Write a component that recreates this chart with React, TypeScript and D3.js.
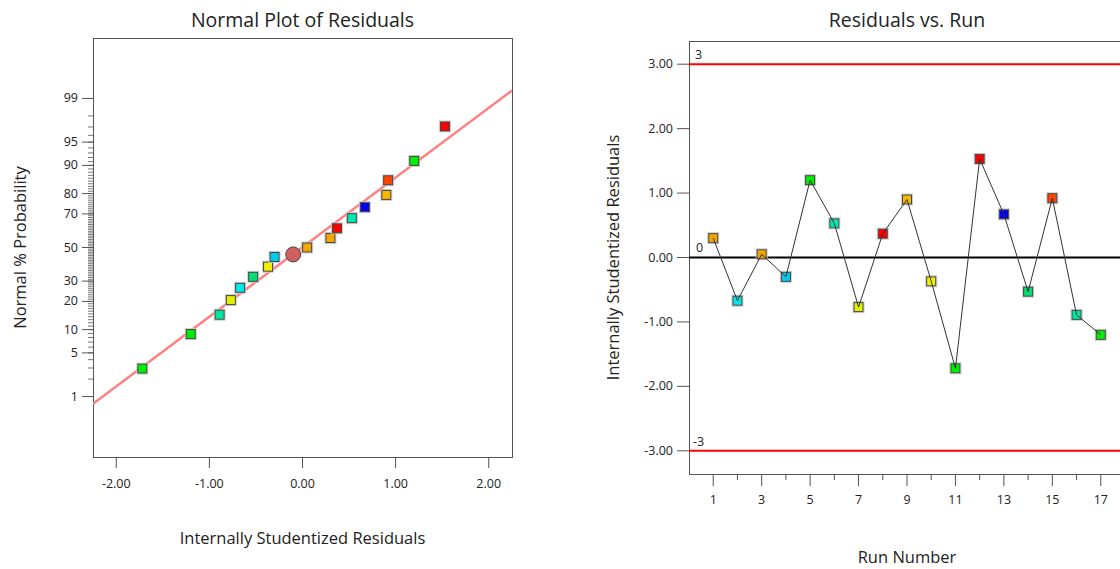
import React from "react";
import * as d3 from "d3";

const runs = [1, 2, 3, 4, 5, 6, 7, 8, 9, 10, 11, 12, 13, 14, 15, 16, 17];
const residuals = [0.3, -0.67, 0.05, -0.3, 1.2, 0.53, -0.77, 0.37, 0.9, -0.37, -1.72, 1.53, 0.67, -0.53, 0.92, -0.89, -1.2];
const runColors = [
  "#f0a800", "#00e8e8", "#f0a800", "#00ccf0", "#00ee00", "#00e8b0", "#e0f000", "#ff0000", "#f8b800",
  "#f0f000", "#00ee00", "#ff0000", "#0000ee", "#00e070", "#ff4400", "#00e8a0", "#00ee00",
];

// highlighted point on the normal plot
const markerResidual = -0.1;
const markerPercent = 45.7;

// fitted normal line
const fitMean = -0.005;
const fitSd = 0.92;

const probMajor = [1, 5, 10, 20, 30, 50, 70, 80, 90, 95, 99];
const probMinor = d3.range(1, 100);
const xTicksLeft = [-2, -1, 0, 1, 2];
const yTicksRight = [-3, -2, -1, 0, 1, 2, 3];

const font = "'Open Sans', 'Noto Sans', sans-serif";
const textColor = "#222";
const axisColor = "#555";

// inverse normal cdf (Acklam)
function normInv(p: number) {
  const a = [-39.69683028665376, 220.9460984245205, -275.9285104469687, 138.357751867269, -30.66479806614716, 2.506628277459239];
  const b = [-54.47609879822406, 161.5858368580409, -155.6989798598866, 66.80131188771972, -13.28068155288572];
  const c = [-0.007784894002430293, -0.3223964580411365, -2.400758277161838, -2.549732539343734, 4.374664141464968, 2.938163982698783];
  const d = [0.007784695709041462, 0.3224671290700398, 2.445134137142996, 3.754408661907416];
  const pl = 0.02425;
  if (p < pl) {
    const q = Math.sqrt(-2 * Math.log(p));
    return (((((c[0] * q + c[1]) * q + c[2]) * q + c[3]) * q + c[4]) * q + c[5]) / ((((d[0] * q + d[1]) * q + d[2]) * q + d[3]) * q + 1);
  }
  if (p > 1 - pl) {
    const q = Math.sqrt(-2 * Math.log(1 - p));
    return -(((((c[0] * q + c[1]) * q + c[2]) * q + c[3]) * q + c[4]) * q + c[5]) / ((((d[0] * q + d[1]) * q + d[2]) * q + d[3]) * q + 1);
  }
  const q = p - 0.5;
  const r = q * q;
  return ((((((a[0] * r + a[1]) * r + a[2]) * r + a[3]) * r + a[4]) * r + a[5]) * q) / (((((b[0] * r + b[1]) * r + b[2]) * r + b[3]) * r + b[4]) * r + 1);
}

const Square = ({ x, y, fill }: { x: number; y: number; fill: string }) => (
  <g>
    <rect x={x - 5.5} y={y - 5.5} width={11} height={11} fill="none" stroke="#ccc" strokeWidth={1} />
    <rect x={x - 4.5} y={y - 4.5} width={9} height={9} fill={fill} stroke="#444" strokeWidth={1} />
  </g>
);

const NormalPlot = () => {
  const left = 93, right = 512, top = 38, bottom = 457;
  const x = d3.scaleLinear().domain([-2.25, 2.25]).range([left, right]);
  const yz = d3.scaleLinear().domain([-3.27, 3.27]).range([bottom, top]);
  const yp = (pct: number) => yz(normInv(pct / 100));

  const n = residuals.length;
  const order = d3.range(n).sort((i, j) => residuals[i] - residuals[j]);
  const pts = order.map((idx, rank) => ({
    r: residuals[idx],
    p: ((rank + 0.5) / n) * 100,
    color: runColors[idx],
  }));

  const line = d3.line<number>()
    .x((r) => x(r))
    .y((r) => yz((r - fitMean) / fitSd));

  const cx = (left + right) / 2;

  return (
    <g fontFamily={font} fill={textColor}>
      <text x={cx} y={27} textAnchor="middle" fontSize={19.5}>Normal Plot of Residuals</text>
      <defs>
        <clipPath id="clipL">
          <rect x={left} y={top} width={right - left} height={bottom - top} />
        </clipPath>
      </defs>
      <rect x={left + 0.5} y={top + 0.5} width={right - left} height={bottom - top} fill="none" stroke={axisColor} />
      {probMinor.map((p) => (
        <line key={"m" + p} x1={left - 5} x2={left} y1={yp(p)} y2={yp(p)} stroke={axisColor} strokeWidth={0.8} />
      ))}
      {probMajor.map((p) => (
        <g key={"M" + p}>
          <line x1={left - 11} x2={left} y1={yp(p)} y2={yp(p)} stroke={axisColor} />
          <text x={left - 15} y={yp(p) + 4} textAnchor="end" fontSize={12.5}>{p}</text>
        </g>
      ))}
      {xTicksLeft.map((t) => (
        <g key={t}>
          <line x1={x(t)} x2={x(t)} y1={bottom} y2={bottom + 11} stroke={axisColor} />
          <text x={x(t)} y={bottom + 31} textAnchor="middle" fontSize={12.5}>{t.toFixed(2)}</text>
        </g>
      ))}
      <text x={cx} y={544} textAnchor="middle" fontSize={16.5}>Internally Studentized Residuals</text>
      <text transform={`translate(26,${(top + bottom) / 2}) rotate(-90)`} textAnchor="middle" fontSize={16.5}>
        Normal % Probability
      </text>
      <path d={line(x.domain()) || ""} stroke="#ff8080" strokeWidth={2.5} fill="none" clipPath="url(#clipL)" />
      {pts.map((d, i) => (
        <Square key={i} x={x(d.r)} y={yp(d.p)} fill={d.color} />
      ))}
      <circle cx={x(markerResidual)} cy={yp(markerPercent)} r={7.5} fill="#d06060" stroke="#444" strokeWidth={1} />
    </g>
  );
};

const RunPlot = () => {
  const left = 689, right = 1125, top = 41, bottom = 474;
  const x = d3.scaleLinear().domain([0, 18]).range([left, right]);
  const y = d3.scaleLinear().domain([-3.36, 3.36]).range([bottom, top]);
  const cx = (left + right) / 2;

  const line = d3.line<number>()
    .x((_, i) => x(runs[i]))
    .y((v) => y(v));

  const xTicks = d3.range(1, 18);

  return (
    <g fontFamily={font} fill={textColor}>
      <text x={cx} y={27} textAnchor="middle" fontSize={19.5}>Residuals vs. Run</text>
      <rect x={left + 0.5} y={top + 0.5} width={right - left} height={bottom - top} fill="none" stroke={axisColor} />
      {yTicksRight.map((t) => (
        <g key={t}>
          <line x1={left - 12} x2={left} y1={y(t)} y2={y(t)} stroke={axisColor} />
          <text x={left - 16} y={y(t) + 4} textAnchor="end" fontSize={12.5}>{t.toFixed(2)}</text>
        </g>
      ))}
      {xTicks.map((t) => (
        <g key={t}>
          <line x1={x(t)} x2={x(t)} y1={bottom} y2={bottom + (t % 2 === 1 ? 12 : 6)} stroke={axisColor} />
          {t % 2 === 1 && (
            <text x={x(t)} y={bottom + 30} textAnchor="middle" fontSize={12.5}>{t}</text>
          )}
        </g>
      ))}
      <text x={cx} y={563} textAnchor="middle" fontSize={16.5}>Run Number</text>
      <text transform={`translate(619,${(top + bottom) / 2}) rotate(-90)`} textAnchor="middle" fontSize={16.5}>
        Internally Studentized Residuals
      </text>
      <line x1={left} x2={right} y1={y(3)} y2={y(3)} stroke="#ff0000" strokeWidth={2} />
      <line x1={left} x2={right} y1={y(-3)} y2={y(-3)} stroke="#ff0000" strokeWidth={2} />
      <line x1={left} x2={right} y1={y(0)} y2={y(0)} stroke="#000" strokeWidth={2} />
      <text x={695} y={y(3) - 5} fontSize={12.5}>3</text>
      <text x={693} y={y(-3) - 5} fontSize={12.5}>-3</text>
      <text x={696} y={y(0) - 6} fontSize={12.5}>0</text>
      {residuals.map((v, i) => (
        <Square key={i} x={x(runs[i])} y={y(v)} fill={runColors[i]} />
      ))}
      <path d={line(residuals) || ""} stroke="#333" strokeWidth={1} fill="none" />
    </g>
  );
};

export default function App() {
  return (
    <svg
      width={1120}
      height={569}
      style={{ position: "absolute", left: 0, top: 0, background: "#fff" }}
    >
      <NormalPlot />
      <RunPlot />
    </svg>
  );
}
